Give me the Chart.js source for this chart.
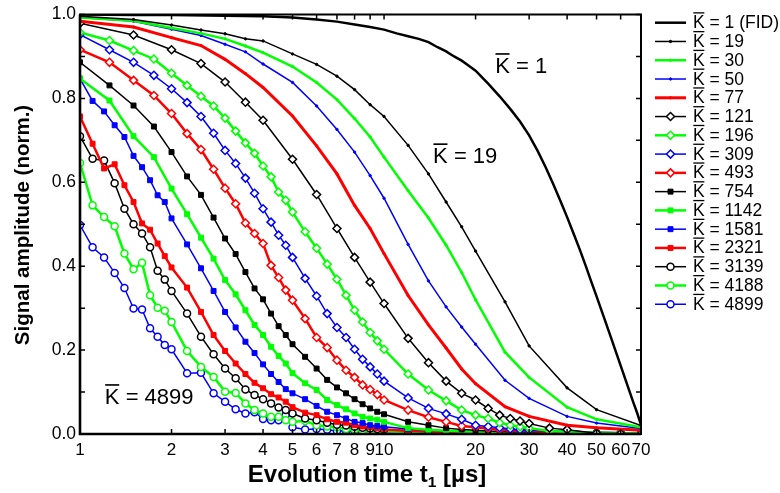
<!DOCTYPE html>
<html><head><meta charset="utf-8">
<script src="https://cdn.jsdelivr.net/npm/chart.js@4.4.1/dist/chart.umd.min.js"></script>
<style>html,body{margin:0;padding:0;background:#fff}#wrap{width:780px;height:493px;position:relative}</style>
</head><body><div id="wrap"><canvas id="c"></canvas></div>
<script>
const FONT = '"Liberation Sans", Arial, Helvetica, sans-serif';

// tick values
const X_TICKS = [1,2,3,4,5,6,7,8,9,10,20,30,40,50,60,70];
const Y_TICKS = [0,0.2,0.4,0.6,0.8,1.0];
const Y_MINOR = [0.1,0.3,0.5,0.7,0.9];

// series labels (K-bar values)
const K_LABELS = ['1 (FID)','19','30','50','77','121','196','309','493','754','1142','1581','2321','3139','4188','4899'];

// evolution times
const T_FID = [1,1.5,2,3,4,5,6,7,8,9,10,11,12,13,14,15,16,17,18,19,20,22,24,26,28,30,32,34,36,38,40,42,44,46,48,50,52,54,56,58,60,62,64,66,68,70];
const T_LINE = [1,1.5,2,2.5,3,3.5,4,5,6,7,8,9,10,12,14,16,18,20,25,30,40,50,70];
const T_A = [1,1.1,1.2,1.3,1.4,1.5,1.6,1.7,1.8,1.9,2,2.25,2.5,2.75,3,3.25,3.5,3.75,4,4.25,4.5,4.75,5,5.5,6,6.5,7,7.5,8,8.5,9,9.5,10,12,14,16,18,20,22,24,26,28,30,35,40,50,60,70];
const T_B = [1,1.25,1.5,1.75,2,2.25,2.5,2.75,3,3.25,3.5,3.75,4,4.25,4.5,4.75,5,5.5,6,6.5,7,7.5,8,8.5,9,9.5,10,12,14,16,18,20,22,24,26,28,30,35,40,50,60,70];
const T_C = [1,1.5,2,2.5,3,3.5,4,5,6,7,8,9,10,12,14,16,18,20,22,24,26,28,30,35,40,50,60,70];

// signal amplitudes
const V_1 = [1.0,0.999,0.999,0.997,0.996,0.993,0.988,0.983,0.976,0.970,0.964,0.955,0.948,0.942,0.934,0.922,0.912,0.900,0.890,0.878,0.866,0.835,0.805,0.775,0.745,0.712,0.675,0.636,0.596,0.556,0.517,0.478,0.440,0.402,0.364,0.328,0.293,0.259,0.226,0.194,0.163,0.133,0.104,0.076,0.050,0.022];
const V_19 = [0.996,0.988,0.975,0.963,0.954,0.942,0.937,0.906,0.881,0.853,0.821,0.785,0.757,0.688,0.620,0.553,0.494,0.436,0.315,0.210,0.110,0.058,0.020];
const V_30 = [0.993,0.985,0.968,0.955,0.942,0.925,0.909,0.876,0.838,0.797,0.752,0.708,0.660,0.580,0.515,0.450,0.385,0.320,0.195,0.135,0.064,0.035,0.016];
const V_50 = [0.993,0.984,0.965,0.950,0.929,0.911,0.882,0.838,0.782,0.726,0.672,0.616,0.562,0.452,0.365,0.303,0.255,0.214,0.128,0.085,0.042,0.026,0.013];
const V_77 = [0.984,0.970,0.945,0.926,0.893,0.859,0.826,0.758,0.687,0.620,0.545,0.490,0.430,0.330,0.260,0.205,0.155,0.120,0.065,0.042,0.021,0.015,0.009];
const V_121 = [0.979,0.951,0.916,0.883,0.839,0.791,0.748,0.655,0.571,0.490,0.421,0.362,0.311,0.228,0.170,0.126,0.097,0.081,0.061,0.045,0.037,0.031,0.025,0.014,0.010,0.002,0.001,0.0];
const V_196 = [0.957,0.938,0.914,0.894,0.860,0.831,0.805,0.782,0.753,0.722,0.694,0.669,0.639,0.613,0.577,0.557,0.529,0.482,0.443,0.405,0.369,0.331,0.295,0.267,0.242,0.222,0.202,0.143,0.105,0.079,0.057,0.045,0.037,0.027,0.021,0.017,0.014,0.007,0.005,0.003,0.002,0.001];
const V_309 = [0.952,0.916,0.886,0.855,0.823,0.790,0.757,0.717,0.676,0.645,0.610,0.574,0.537,0.505,0.474,0.450,0.421,0.371,0.329,0.287,0.254,0.230,0.202,0.178,0.160,0.143,0.126,0.086,0.061,0.048,0.035,0.021,0.018,0.015,0.012,0.010,0.009,0.007,0.006,0.004,0.003,0.002];
const V_493 = [0.916,0.886,0.843,0.807,0.764,0.716,0.678,0.631,0.586,0.549,0.503,0.478,0.454,0.402,0.373,0.343,0.319,0.275,0.230,0.206,0.176,0.152,0.135,0.117,0.106,0.094,0.081,0.057,0.040,0.029,0.019,0.016,0.013,0.010,0.009,0.008,0.007,0.005,0.004,0.003,0.002,0.001];
const V_754 = [0.886,0.831,0.783,0.733,0.672,0.614,0.570,0.516,0.466,0.429,0.386,0.347,0.321,0.287,0.257,0.236,0.214,0.184,0.156,0.129,0.111,0.097,0.083,0.071,0.061,0.053,0.047,0.029,0.021,0.014,0.011,0.009,0.007,0.006,0.005,0.005,0.004,0.003,0.003,0.002,0.001,0.001];
const V_1142 = [0.847,0.795,0.710,0.660,0.585,0.524,0.468,0.418,0.367,0.333,0.295,0.260,0.236,0.208,0.186,0.168,0.145,0.121,0.105,0.081,0.069,0.059,0.049,0.041,0.037,0.034,0.029,0.014,0.010,0.008,0.006,0.005,0.004,0.004,0.003,0.003,0.003,0.002,0.002,0.001,0.001,0.001];
const V_1581 = [0.847,0.794,0.769,0.736,0.708,0.663,0.636,0.605,0.569,0.553,0.514,0.452,0.395,0.341,0.291,0.254,0.220,0.193,0.166,0.143,0.124,0.107,0.097,0.083,0.067,0.053,0.045,0.037,0.029,0.026,0.021,0.019,0.017,0.012,0.009,0.007,0.006,0.005,0.004,0.004,0.003,0.003,0.003,0.002,0.002,0.001,0.001,0.001];
const V_2321 = [0.757,0.692,0.633,0.643,0.593,0.553,0.502,0.487,0.454,0.424,0.397,0.349,0.291,0.236,0.198,0.168,0.143,0.122,0.109,0.095,0.087,0.077,0.064,0.051,0.045,0.035,0.029,0.027,0.021,0.018,0.016,0.014,0.011,0.008,0.006,0.005,0.004,0.003,0.003,0.002,0.003,0.002,0.002,0.002,0.001,0.001,0.001,0.0];
const V_3139 = [0.710,0.656,0.652,0.598,0.537,0.500,0.478,0.445,0.389,0.368,0.341,0.287,0.232,0.190,0.156,0.133,0.106,0.093,0.083,0.073,0.063,0.057,0.049,0.037,0.033,0.027,0.022,0.020,0.017,0.015,0.013,0.012,0.011,0.008,0.006,0.005,0.004,0.004,0.003,0.003,0.002,0.002,0.002,0.002,0.001,0.001,0.001,0.0];
const V_4188 = [0.646,0.545,0.517,0.495,0.430,0.393,0.408,0.331,0.301,0.294,0.267,0.198,0.160,0.136,0.101,0.098,0.073,0.057,0.049,0.041,0.041,0.033,0.029,0.031,0.021,0.018,0.016,0.012,0.011,0.009,0.008,0.008,0.007,0.005,0.004,0.003,0.002,0.003,0.002,0.002,0.001,0.002,0.001,0.001,0.002,0.001,0.001,0.0];
const V_4899 = [0.498,0.445,0.421,0.384,0.348,0.299,0.297,0.252,0.232,0.212,0.202,0.145,0.146,0.097,0.077,0.059,0.049,0.052,0.036,0.033,0.033,0.045,0.016,0.011,0.012,0.010,0.007,0.008,0.006,0.004,0.005,0.006,0.005,0.007,0.004,0.003,0.005,0.002,0.004,0.003,0.002,0.003,0.002,0.003,0.009,0.002,0.001,0.001];

const BLACK='#000000', GREEN='#00ff00', BLUE='#0000ff', RED='#ff0000';
const pts = (T,V) => T.map((t,i)=>({x:t,y:V[i]}));

function ds(i, T, V, color, width, style, radius, open){
  return {
    label: K_LABELS[i], data: pts(T,V), borderColor: color, borderWidth: width,
    pointStyle: style || 'circle', pointRadius: radius, pointBorderColor: color,
    pointBackgroundColor: open ? '#ffffff' : color, pointBorderWidth: open ? 1.5 : 1,
    pointHoverRadius: radius, fill:false, tension:0
  };
}

const datasets = [
  ds(0, T_FID, V_1, BLACK, 2.5, 'circle', 0, false),
  ds(1, T_LINE, V_19, BLACK, 1.5, 'circle', 1.2, false),
  ds(2, T_LINE, V_30, GREEN, 2.5, 'circle', 1.2, false),
  ds(3, T_LINE, V_50, BLUE, 1.5, 'circle', 1.2, false),
  ds(4, T_LINE, V_77, RED, 3, 'circle', 1.2, false),
  ds(5, T_C, V_121, BLACK, 1.5, 'rectRot', 4, true),
  ds(6, T_B, V_196, GREEN, 2.5, 'rectRot', 4, true),
  ds(7, T_B, V_309, BLUE, 1.5, 'rectRot', 4, true),
  ds(8, T_B, V_493, RED, 2.5, 'rectRot', 4, true),
  ds(9, T_B, V_754, BLACK, 1.5, 'rect', 3.5, false),
  ds(10, T_B, V_1142, GREEN, 2.5, 'rect', 3.5, false),
  ds(11, T_A, V_1581, BLUE, 1.5, 'rect', 3.5, false),
  ds(12, T_A, V_2321, RED, 2.5, 'rect', 3.5, false),
  ds(13, T_A, V_3139, BLACK, 1.5, 'circle', 3.5, true),
  ds(14, T_A, V_4188, GREEN, 2.5, 'circle', 3.5, true),
  ds(15, T_A, V_4899, BLUE, 1.5, 'circle', 3.5, true)
];

// annotation anchors (data coords: left edge / baseline)
const NOTES = [
  {text:'1', t:23.2, v:0.860},
  {text:'19', t:14.5, v:0.645},
  {text:'4899', t:1.207, v:0.071}
];

function kbar(ctx, x, base, size, rest){
  ctx.font = size + 'px ' + FONT;
  ctx.textAlign = 'left'; ctx.textBaseline = 'alphabetic';
  ctx.fillText('K', x, base);
  const w = ctx.measureText('K').width;
  const oy = base - size*0.716 - size*0.16;
  ctx.save(); ctx.lineWidth = Math.max(1.2, size*0.075); ctx.beginPath();
  ctx.moveTo(x+0.3, oy); ctx.lineTo(x+w-0.3, oy); ctx.stroke(); ctx.restore();
  ctx.fillText(' = ' + rest, x + w, base);
}

function marker(ctx, style, x, y, r, fill, stroke, bw){
  ctx.save(); ctx.fillStyle = fill; ctx.strokeStyle = stroke; ctx.lineWidth = bw;
  ctx.beginPath();
  if (style === 'rectRot'){ ctx.moveTo(x, y-r); ctx.lineTo(x+r, y); ctx.lineTo(x, y+r); ctx.lineTo(x-r, y); ctx.closePath(); }
  else if (style === 'rect'){ const s = r*Math.SQRT1_2; ctx.rect(x-s, y-s, 2*s, 2*s); }
  else { ctx.arc(x, y, r, 0, Math.PI*2); }
  ctx.fill(); ctx.stroke(); ctx.restore();
}

const deco = {
  id:'deco',
  afterDraw(chart){
    const ctx = chart.ctx, a = chart.chartArea, xs = chart.scales.x, ys = chart.scales.y;
    ctx.save();
    ctx.strokeStyle = '#000'; ctx.fillStyle = '#000';
    // inward ticks
    ctx.lineWidth = 1.5; ctx.beginPath();
    X_TICKS.forEach(v => { const px = xs.getPixelForValue(v);
      ctx.moveTo(px, a.bottom); ctx.lineTo(px, a.bottom-5);
      ctx.moveTo(px, a.top); ctx.lineTo(px, a.top+5); });
    Y_TICKS.concat(Y_MINOR).forEach(v => { const py = ys.getPixelForValue(v);
      ctx.moveTo(a.left, py); ctx.lineTo(a.left+5, py);
      ctx.moveTo(a.right, py); ctx.lineTo(a.right-5, py); });
    ctx.stroke();
    // frame
    ctx.lineWidth = 2; ctx.strokeRect(a.left, a.top, a.right-a.left, a.bottom-a.top);
    ctx.lineWidth = 2.6; ctx.beginPath();
    ctx.moveTo(a.left, a.top); ctx.lineTo(a.left, a.bottom); ctx.lineTo(a.right, a.bottom); ctx.stroke();
    // annotations
    NOTES.forEach(n => kbar(ctx, xs.getPixelForValue(n.t), ys.getPixelForValue(n.v), 22, n.text));
    // legend
    chart.data.datasets.forEach((d, i) => {
      const y = 22.7 + i*18.77;
      ctx.save(); ctx.strokeStyle = d.borderColor; ctx.lineWidth = d.borderWidth;
      ctx.beginPath(); ctx.moveTo(655, y); ctx.lineTo(686, y); ctx.stroke(); ctx.restore();
      if (d.pointRadius > 0) marker(ctx, d.pointStyle, 670.5, y, d.pointRadius, d.pointBackgroundColor, d.pointBorderColor, d.pointBorderWidth);
      ctx.fillStyle = '#000'; ctx.strokeStyle = '#000';
      kbar(ctx, 693, y + 5.5, 17.5, d.label);
    });
    // axis titles
    ctx.fillStyle = '#000';
    ctx.save(); ctx.translate(23, 225); ctx.rotate(-Math.PI/2);
    ctx.font = 'bold 20.5px ' + FONT; ctx.textAlign = 'center'; ctx.textBaseline = 'middle';
    ctx.fillText('Signal amplitude (norm.)', 0, 0); ctx.restore();
    ctx.textBaseline = 'alphabetic'; ctx.textAlign = 'left';
    const big = 'bold 24px ' + FONT, small = 'bold 15.5px ' + FONT;
    ctx.font = big; const w1 = ctx.measureText('Evolution time t').width, w3 = ctx.measureText(' [\u00b5s]').width;
    ctx.font = small; const w2 = ctx.measureText('1').width;
    let x0 = 367 - (w1+w2+w3)/2; const yb = 482;
    ctx.font = big; ctx.fillText('Evolution time t', x0, yb);
    ctx.font = small; ctx.fillText('1', x0 + w1, yb + 5);
    ctx.font = big; ctx.fillText(' [\u00b5s]', x0 + w1 + w2, yb);
    ctx.restore();
  }
};

new Chart(document.getElementById('c'), {
  type: 'line',
  data: { datasets },
  options: {
    responsive: true, maintainAspectRatio: false, animation: false, devicePixelRatio: 1,
    layout: { padding: { left: 0, right: 139, top: 14, bottom: 0 } },
    plugins: { legend: { display: false }, tooltip: { enabled: false } },
    scales: {
      x: { type: 'logarithmic', min: 1, max: 70,
        grid: { display: false, drawTicks: false }, border: { display: false },
        afterBuildTicks: s => { s.ticks = X_TICKS.map(v => ({ value: v })); },
        afterFit: s => { s.height = 59; },
        ticks: { autoSkip: false, maxRotation: 0, padding: 6, color: '#000', font: { family: FONT, size: 17 }, callback: v => String(v) } },
      y: { type: 'linear', min: 0, max: 1,
        grid: { display: false, drawTicks: false }, border: { display: false },
        afterBuildTicks: s => { s.ticks = Y_TICKS.map(v => ({ value: v })); },
        afterFit: s => { s.width = 80; },
        ticks: { padding: 4, color: '#000', font: { family: FONT, size: 17.5 }, callback: v => Number(v).toFixed(1) } }
    }
  },
  plugins: [deco]
});
</script></body></html>
